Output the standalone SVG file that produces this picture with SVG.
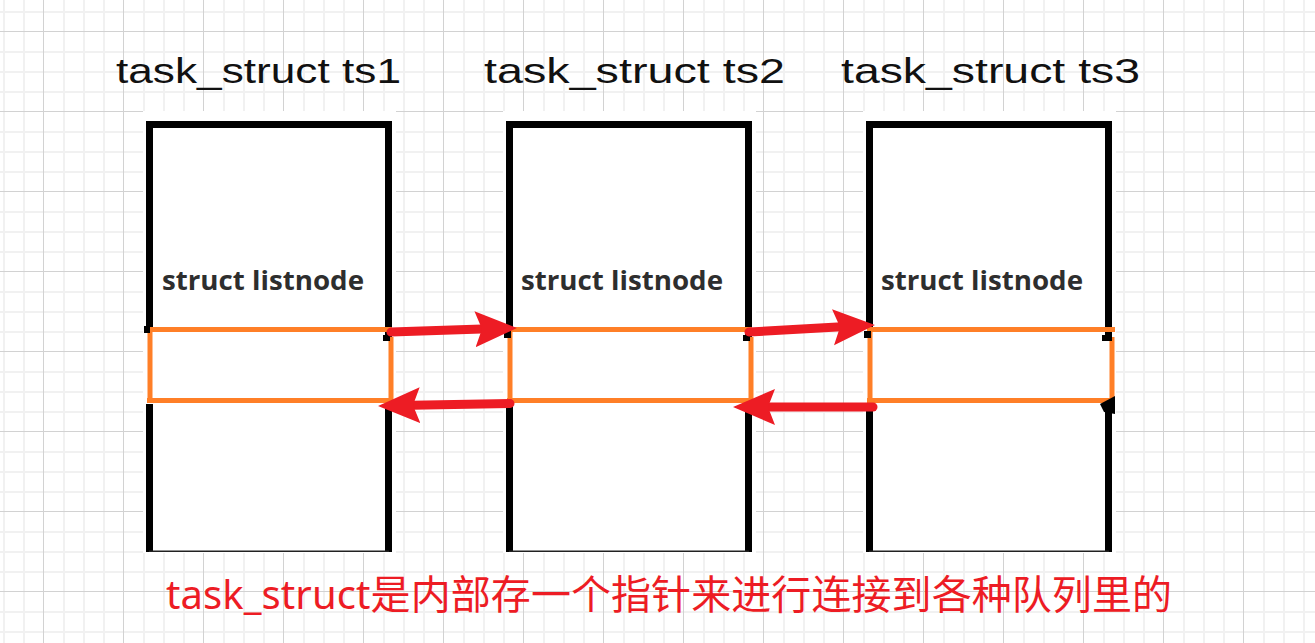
<svg xmlns="http://www.w3.org/2000/svg" width="1315" height="643" viewBox="0 0 1315 643">
  <defs>
    <pattern id="grid" x="43" y="31" width="80" height="80" patternUnits="userSpaceOnUse">
      <path d="M21,0V80M41,0V80M61,0V80M0,21H80M0,41H80M0,61H80" stroke="#f1f1f1" stroke-width="2" fill="none"/>
      <path d="M0.5,0V80M0,0.5H80" stroke="#d2d2d2" stroke-width="1" fill="none"/>
    </pattern>
    <marker id="head" viewBox="0 0 42 38" refX="22" refY="19" markerWidth="42" markerHeight="38" markerUnits="userSpaceOnUse" orient="auto">
      <path d="M0,1 L42,19 L0,37 L7,19 Z" fill="#ed1c24"/>
    </marker>
    <style>
      .paper { fill: #ffffff; }
      .frame { fill: none; stroke: #000000; stroke-width: 7; stroke-linejoin: miter; }
      .base { stroke: #222222; stroke-width: 1.5; }
      .node { fill: none; stroke: #ff7f27; stroke-width: 5; }
      .nub { fill: #000000; }
      .label { font-family: "Open Sans", "Liberation Sans", sans-serif; font-weight: bold; font-size: 27px; fill: #2e2e2e; }
      .title { font-family: "Liberation Sans", "DejaVu Sans", sans-serif; font-size: 35px; fill: #111111; }
      .link { fill: none; stroke: #ed1c24; stroke-width: 9; stroke-linecap: round; marker-end: url(#head); }
      .caption { font-family: "Noto Sans", "Noto Sans CJK SC", sans-serif; font-size: 40px; fill: #ed1c24; }
    </style>
  </defs>

  <rect width="1315" height="643" fill="#ffffff"/>
  <rect width="1315" height="643" fill="url(#grid)"/>

  <g id="ts1">
    <text class="title" x="116" y="83" textLength="285" lengthAdjust="spacingAndGlyphs">task_struct ts1</text>
    <rect class="paper" x="143" y="111" width="253" height="442"/>
    <path class="frame" d="M149.5,329V124.5H388.5V338M149.5,404V552M388.5,404V552"/>
    <line class="base" x1="149" y1="551.2" x2="389" y2="551.2"/>
    <text class="label" x="162" y="290" textLength="202" lengthAdjust="spacingAndGlyphs">struct listnode</text>
    <path class="node" d="M147,329.5H392M150,329.5V401M147,400.5H390M391,337V401"/>
    <rect class="nub" x="144" y="326" width="6" height="7"/>
    <rect class="nub" x="383" y="335" width="7" height="6"/>
  </g>

  <g id="ts2">
    <text class="title" x="484" y="83" textLength="301" lengthAdjust="spacingAndGlyphs">task_struct ts2</text>
    <rect class="paper" x="503" y="111" width="253" height="442"/>
    <path class="frame" d="M509.5,329V124.5H748.5V338M509.5,404V552M748.5,404V552"/>
    <line class="base" x1="509" y1="551.2" x2="749" y2="551.2"/>
    <text class="label" x="521" y="290" textLength="202" lengthAdjust="spacingAndGlyphs">struct listnode</text>
    <path class="node" d="M507,329.5H752M510,329.5V401M507,400.5H750M751,337V401"/>
    <rect class="nub" x="504" y="331" width="7" height="7"/>
    <rect class="nub" x="743" y="335" width="7" height="6"/>
  </g>

  <g id="ts3">
    <text class="title" x="841" y="83" textLength="299" lengthAdjust="spacingAndGlyphs">task_struct ts3</text>
    <rect class="paper" x="863" y="111" width="253" height="442"/>
    <path class="frame" d="M869.5,329V124.5H1108.5V338M869.5,404V552M1108.5,404V552"/>
    <line class="base" x1="869" y1="551.2" x2="1109" y2="551.2"/>
    <text class="label" x="881" y="290" textLength="202" lengthAdjust="spacingAndGlyphs">struct listnode</text>
    <path class="node" d="M867,329.5H1115M870,329.5V401M867,400.5H1112M1112,337V401"/>
    <rect class="nub" x="864" y="331" width="7" height="7"/>
    <rect class="nub" x="1102" y="335" width="10" height="6"/>
    <path class="nub" d="M1100,404 L1115,396 L1115,414 L1104,412 Z"/>
  </g>

  <g id="connectors">
    <path class="link" d="M391,332 L497,328.6"/>
    <path class="link" d="M510,403.5 L398,405.6"/>
    <path class="link" d="M749,332 L855,326.1"/>
    <path class="link" d="M873,407 L753,407"/>
  </g>

  <text id="caption" class="caption" x="166" y="609" textLength="1006" lengthAdjust="spacing">task_struct是内部存一个指针来进行连接到各种队列里的</text>
</svg>
